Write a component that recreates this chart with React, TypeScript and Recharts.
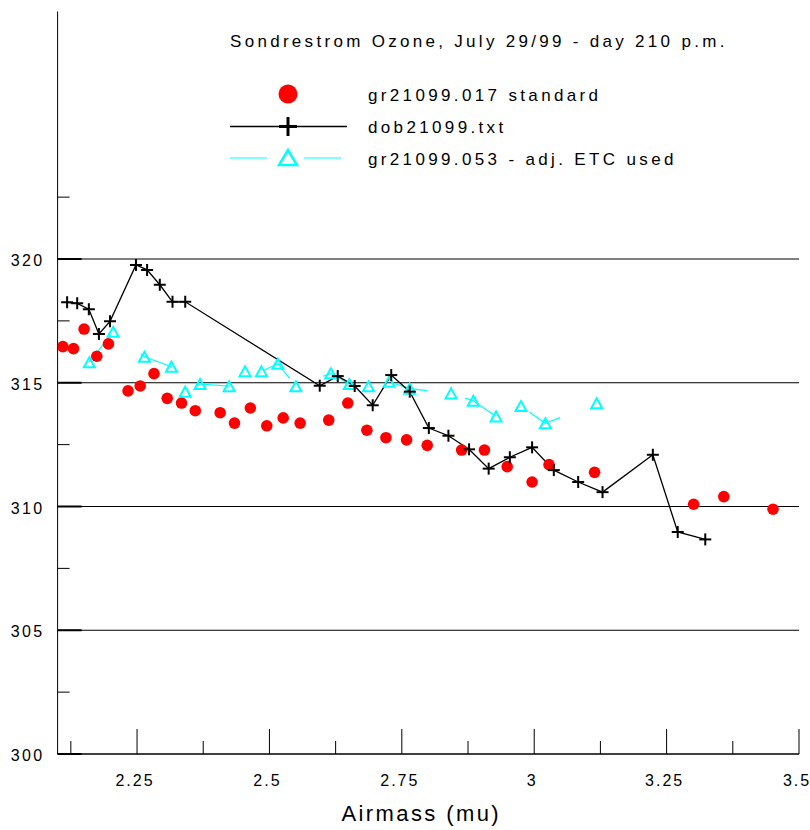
import React from "react";
import {
  ComposedChart,
  Line,
  Scatter,
  XAxis,
  YAxis,
  ReferenceLine,
  Legend,
} from "recharts";

// ---- data ----
const titleText = "Sondrestrom Ozone, July 29/99 - day 210 p.m.";
const seriesNames = ["gr21099.017 standard", "dob21099.txt", "gr21099.053 - adj. ETC used"];
const xAxisLabel = "Airmass (mu)";

const stdX = [2.110, 2.130, 2.150, 2.174, 2.196, 2.233, 2.256, 2.282, 2.307, 2.334, 2.360, 2.407, 2.434, 2.464, 2.495, 2.526, 2.558, 2.612, 2.648, 2.684, 2.720, 2.759, 2.798, 2.863, 2.906, 2.949, 2.996, 3.028, 3.114, 3.301, 3.358, 3.451];
const stdY = [316.46, 316.38, 317.17, 316.07, 316.57, 314.67, 314.87, 315.37, 314.37, 314.18, 313.87, 313.79, 313.37, 313.98, 313.26, 313.58, 313.37, 313.49, 314.18, 313.08, 312.78, 312.69, 312.47, 312.28, 312.28, 311.61, 310.99, 311.69, 311.38, 310.09, 310.40, 309.89];

const dobX = [2.118, 2.137, 2.159, 2.178, 2.199, 2.248, 2.269, 2.293, 2.317, 2.341, 2.595, 2.629, 2.661, 2.695, 2.730, 2.765, 2.801, 2.838, 2.877, 2.914, 2.954, 2.996, 3.037, 3.083, 3.129, 3.224, 3.271, 3.323];
const dobY = [318.25, 318.21, 317.97, 316.97, 317.48, 319.76, 319.56, 318.96, 318.27, 318.27, 314.88, 315.27, 314.87, 314.09, 315.31, 314.64, 313.17, 312.86, 312.31, 311.53, 311.99, 312.39, 311.47, 310.99, 310.58, 312.09, 308.97, 308.67];

const adjX = [2.160, 2.205, 2.264, 2.315, 2.341, 2.369, 2.424, 2.454, 2.485, 2.516, 2.550, 2.616, 2.651, 2.687, 2.726, 2.765, 2.843, 2.885, 2.928, 2.975, 3.021, 3.118];
const adjY = [315.83, 317.06, 316.05, 315.65, 314.64, 314.95, 314.86, 315.46, 315.46, 315.77, 314.86, 315.38, 314.95, 314.86, 315.04, 314.76, 314.57, 314.27, 313.64, 314.06, 313.36, 314.17];

const xMajorTicks = [2.25, 2.5, 2.75, 3, 3.25, 3.5];
const xMinorTicks = [2.125, 2.375, 2.625, 2.875, 3.125, 3.375];
const yMajorTicks = [300, 305, 310, 315, 320];
const yMinorTicks = [302.5, 307.5, 312.5, 317.5, 322.5];
const gridValues = [305, 310, 315, 320];

const stdData = stdX.map((x, i) => ({ x, y: stdY[i] }));
const dobData = dobX.map((x, i) => ({ x, y: dobY[i] }));
const adjData = adjX.map((x, i) => ({ x, y: adjY[i] }));
const xTicks = [...xMajorTicks, ...xMinorTicks].sort((a, b) => a - b);
const yTicks = [...yMajorTicks, ...yMinorTicks].sort((a, b) => a - b);

const FONT = "'Liberation Sans', Arial, Helvetica, sans-serif";
const RED = "#ff0000";
const CYAN = "#00ffff";

const XTick = (props: any) => {
  const { x, y, payload } = props;
  const v = payload.value;
  const major = xMajorTicks.includes(v);
  return (
    <g>
      <line x1={x} x2={x} y1={y} y2={y - (major ? 25 : 13)} stroke="#000" strokeWidth={1} />
      {major && (
        <text x={x - 2} y={y + 32} textAnchor="middle" fontSize={16} letterSpacing={2} fontFamily={FONT} fill="#000">
          {String(v)}
        </text>
      )}
    </g>
  );
};

const YTick = (props: any) => {
  const { x, y, payload } = props;
  const v = payload.value;
  const major = yMajorTicks.includes(v);
  return (
    <g>
      <line x1={x} x2={x + (major ? 24 : 12)} y1={y} y2={y} stroke="#000" strokeWidth={major ? 2 : 1} />
      {major && (
        <text x={x - 13} y={y + 7} textAnchor="end" fontSize={16} letterSpacing={2.4} fontFamily={FONT} fill="#000">
          {String(v)}
        </text>
      )}
    </g>
  );
};

const PlusDot = (props: any) => {
  const { cx, cy, index } = props;
  if (cx == null || cy == null) return null;
  return (
    <g key={`p${index}`}>
      <line x1={cx - 6} x2={cx + 6} y1={cy} y2={cy} stroke="#000" strokeWidth={2} strokeDasharray="none" />
      <line x1={cx} x2={cx} y1={cy - 6} y2={cy + 6} stroke="#000" strokeWidth={2} strokeDasharray="none" />
    </g>
  );
};

const TriDot = (props: any) => {
  const { cx, cy, index } = props;
  if (cx == null || cy == null) return null;
  const w = 5.5;
  const h = 5;
  return (
    <path
      key={`t${index}`}
      d={`M${cx},${cy - h} L${cx + w},${cy + h} L${cx - w},${cy + h} Z`}
      fill="none"
      stroke={CYAN}
      strokeWidth={2}
      strokeDasharray="none"
    />
  );
};

const RedDot = (props: any) => {
  const { cx, cy } = props;
  return <circle cx={cx} cy={cy} r={5.8} fill={RED} />;
};

const LegendBox = () => (
  <svg width={810} height={180} style={{ display: "block" }}>
    <text x={230} y={47} fontSize={17} letterSpacing={3.3} fontFamily={FONT} fill="#000">
      {titleText}
    </text>
    <circle cx={288} cy={94} r={9.5} fill={RED} />
    <text x={368} y={101} fontSize={17} letterSpacing={3.35} fontFamily={FONT} fill="#000">
      {seriesNames[0]}
    </text>
    <line x1={230} x2={347} y1={126.5} y2={126.5} stroke="#000" strokeWidth={1.5} />
    <line x1={279} x2={297} y1={126.5} y2={126.5} stroke="#000" strokeWidth={3} />
    <line x1={288} x2={288} y1={117} y2={136} stroke="#000" strokeWidth={3} />
    <text x={368} y={133} fontSize={17} letterSpacing={3.35} fontFamily={FONT} fill="#000">
      {seriesNames[1]}
    </text>
    <line x1={230} x2={267} y1={158} y2={158} stroke={CYAN} strokeWidth={1.2} />
    <line x1={304} x2={341} y1={158} y2={158} stroke={CYAN} strokeWidth={1.2} />
    <path d="M288,150 L297,165 L279,165 Z" fill="none" stroke={CYAN} strokeWidth={2.5} />
    <text x={368} y={165} fontSize={17} letterSpacing={3.35} fontFamily={FONT} fill="#000">
      {seriesNames[2]}
    </text>
  </svg>
);

export default function App() {
  return (
    <div style={{ position: "absolute", left: 0, top: 0, width: 810, height: 830, background: "#fff" }}>
      <ComposedChart width={810} height={830} margin={{ top: 11.5, right: 11, bottom: 0, left: 0 }}>
        <XAxis
          type="number"
          dataKey="x"
          domain={[2.1, 3.5]}
          ticks={xTicks}
          interval={0}
          allowDataOverflow
          height={76}
          tick={<XTick />}
          tickLine={false}
          tickSize={0}
          tickMargin={0}
          axisLine={{ stroke: "#000", strokeWidth: 1.5 }}
          label={{ value: xAxisLabel, position: "insideBottom", offset: 9, dx: -7, fontSize: 22, letterSpacing: 2.4, fontFamily: FONT, fill: "#000" }}
        />
        <YAxis
          type="number"
          dataKey="y"
          domain={[300, 330]}
          ticks={yTicks}
          interval={0}
          allowDataOverflow
          width={57.6}
          tick={<YTick />}
          tickLine={false}
          tickSize={0}
          tickMargin={0}
          axisLine={{ stroke: "#000", strokeWidth: 1 }}
        />
        {gridValues.map((v) => (
          <ReferenceLine key={v} y={v} stroke="#000" strokeWidth={1} />
        ))}
        <Scatter data={stdData} dataKey="y" fill={RED} shape={<RedDot />} isAnimationActive={false} />
        <Line
          data={adjData}
          dataKey="y"
          type="linear"
          stroke={CYAN}
          strokeWidth={1.2}
          strokeDasharray="35 39"
          dot={<TriDot />}
          activeDot={false}
          isAnimationActive={false}
        />
        <Line
          data={dobData}
          dataKey="y"
          type="linear"
          stroke="#000"
          strokeWidth={1.3}
          dot={<PlusDot />}
          activeDot={false}
          isAnimationActive={false}
        />
        <Legend
          layout="horizontal"
          verticalAlign="middle"
          align="center"
          content={<LegendBox />}
          wrapperStyle={{ position: "absolute", top: 0, left: 0, width: 810, height: 180 }}
        />
      </ComposedChart>
    </div>
  );
}
